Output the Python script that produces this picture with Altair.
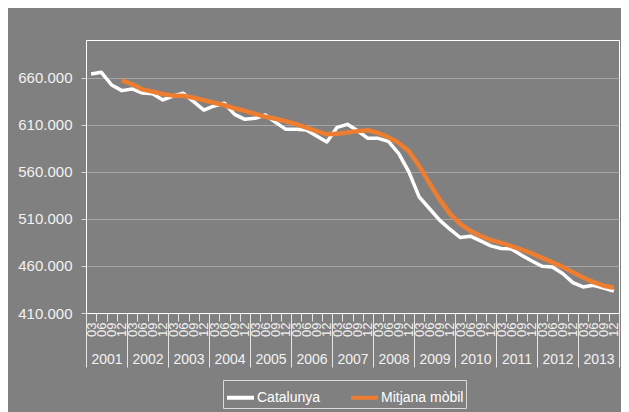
import json
import altair as alt
import pandas as pd

# ---------------- data ----------------
years = list(range(2001, 2014))
quarter_labels = ["03", "06", "09", "12"]
series_names = ["Catalunya", "Mitjana mòbil"]
series_colors = ["#ffffff", "#ED7D31"]

catalunya = [663900, 665700, 652200, 646200, 648000, 643700, 643000, 636300,
             640500, 643400, 634500, 625600, 629900, 632800, 621000, 615700,
             616800, 620300, 612500, 605100, 605100, 604400, 598000, 591600,
             607200, 610400, 603600, 595500, 595500, 592300, 579600, 560000,
             533400, 521000, 508600, 499000, 490200, 491600, 486600, 481300,
             478500, 478100, 471400, 465300, 459700, 458900, 451900, 442300,
             437700, 439500, 436600, 433400]

mitjana = [None, None, None, 657000, 653000, 647500, 645200, 642700,
           640900, 640800, 638700, 636000, 633400, 630700, 627300, 624800,
           621600, 618400, 616300, 613700, 610700, 606800, 603200, 599800,
           600300, 601800, 603200, 604200, 601200, 596700, 590700, 581800,
           566300, 548000, 530500, 515500, 504700, 497300, 491800, 487400,
           484500, 481100, 477300, 473300, 468600, 463800, 459000, 453200,
           447700, 442800, 439000, 436800]

y_ticks = [410000, 460000, 510000, 560000, 610000, 660000]
y_domain = [410000, 700000]

# ---------------- table ----------------
n = len(catalunya)
rows = []
for i in range(n):
    periode = f"{years[i // 4]}-{quarter_labels[i % 4]}"
    rows.append({"idx": i + 0.5, "periode": periode, "serie": series_names[0], "valor": catalunya[i]})
    if mitjana[i] is not None:
        rows.append({"idx": i + 0.5, "periode": periode, "serie": series_names[1], "valor": mitjana[i]})
df = pd.DataFrame(rows)

# ---------------- layout ----------------
W, H = 533, 273
slot = W / n
FONT = "Liberation Sans"
LABEL = "#f2f2f2"

x_scale = alt.Scale(domain=[0, n], nice=False, zero=False)

q_expr = f"datum.value >= {n} ? '' : {json.dumps(quarter_labels)}[datum.value % 4]"
yr_expr = f"datum.value >= {n} ? '' : toString({years[0]} + floor(datum.value / 4))"

quarter_axis = alt.Axis(
    orient="bottom", values=list(range(0, n + 1)), labelExpr=q_expr,
    labelAngle=270, labelOffset=slot / 2, tickSize=8, labelPadding=1,
    labelFontSize=13, labelColor=LABEL, tickColor="#e6e6e6",
    domainColor="#ffffff", grid=False, title=None, labelOverlap=False,
    labelFlush=False, labelBound=False,
)
year_axis = alt.Axis(
    orient="bottom", values=list(range(0, n + 1, 4)), labelExpr=yr_expr,
    labelAngle=0, labelOffset=2 * slot, tickSize=54, labelPadding=-15,
    labelFontSize=14, labelColor=LABEL, tickColor="#e6e6e6",
    domainColor="#ffffff", grid=False, title=None, labelOverlap=False,
    labelFlush=False, labelBound=False,
)

y_enc = alt.Y(
    "valor:Q",
    scale=alt.Scale(domain=y_domain, nice=False, zero=False),
    axis=alt.Axis(
        values=y_ticks, title=None,
        labelExpr="replace(format(datum.value, ',d'), ',', '.')",
        grid=True, gridColor="#a6a6a6", gridWidth=1,
        domainColor="#ffffff", tickColor="#d9d9d9", tickSize=5,
        labelPadding=9, labelFontSize=15, labelColor=LABEL,
    ),
)

color_enc = alt.Color(
    "serie:N",
    scale=alt.Scale(domain=series_names, range=series_colors),
    legend=alt.Legend(
        orient="none", legendX=137, legendY=340, direction="horizontal",
        title=None, symbolType="stroke", symbolSize=729, symbolStrokeWidth=4,
        labelFontSize=14, labelColor="#ffffff", labelOffset=1,
        columnPadding=22, padding=2, fillColor="#808080",
        strokeColor="#d9d9d9",
    ),
)

base = alt.Chart(df)

white = base.transform_filter(alt.datum.serie == series_names[0]).mark_line(
    strokeWidth=3.5, strokeJoin="round"
).encode(
    x=alt.X("idx:Q", scale=x_scale, axis=quarter_axis),
    y=y_enc,
    color=color_enc,
    order="idx:Q",
)

orange = base.transform_filter(alt.datum.serie == series_names[1]).mark_line(
    strokeWidth=4.5, strokeJoin="round"
).encode(
    x=alt.X("idx:Q", scale=x_scale, axis=year_axis),
    y=y_enc,
    color=color_enc,
    order="idx:Q",
)

chart = alt.layer(white, orange).resolve_axis(x="independent").properties(
    width=W, height=H,
    autosize=alt.AutoSizeParams(type="none"),
    padding={"left": 78, "top": 32, "right": 2, "bottom": 99},
    background="#808080",
).configure(font=FONT).configure_view(
    stroke="#ffffff", strokeWidth=1
)

chart.save("out.html", embed_options={"renderer": "svg", "actions": False})
